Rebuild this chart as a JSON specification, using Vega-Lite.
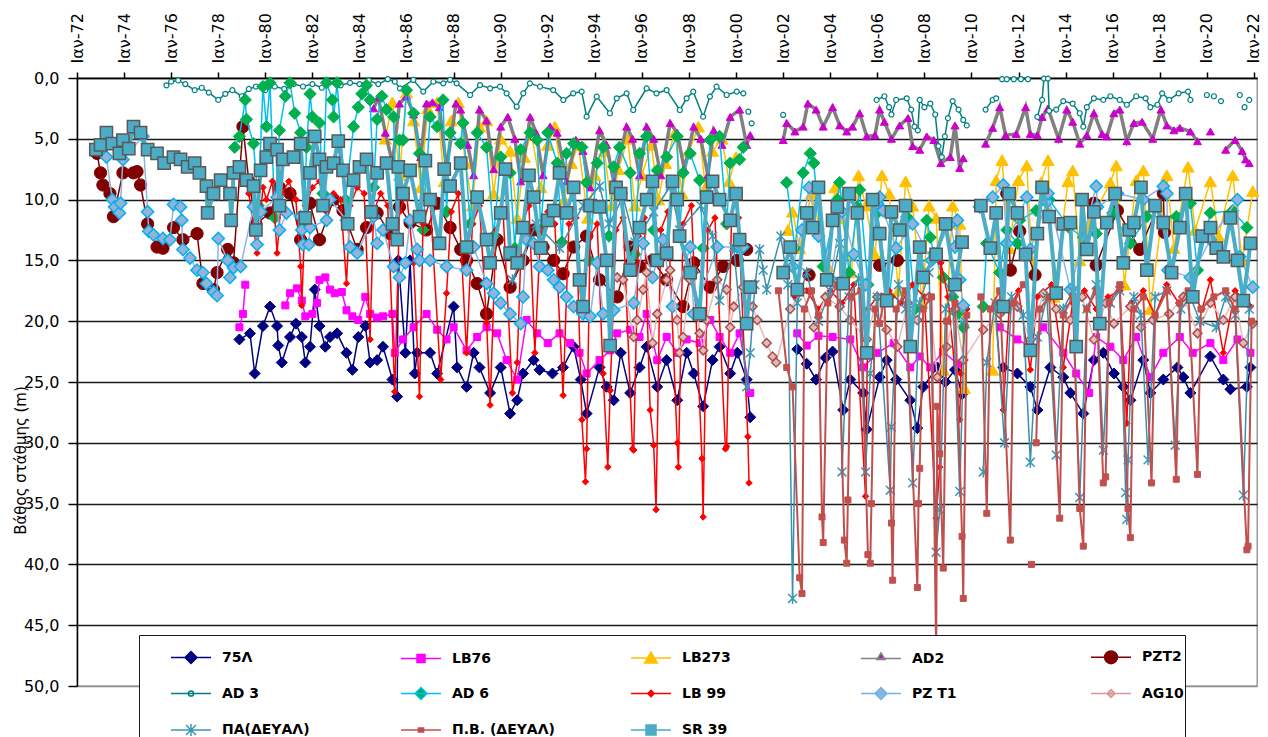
{
"$schema":"https://vega.github.io/schema/vega-lite/v6.json",
"width":1180,"height":608,
"autosize":{"type":"none"},
"padding":{"left":77,"top":78,"right":11,"bottom":51},
"background":"white",
"config":{"view":{"stroke":"#8c8c8c","strokeWidth":1.3}},
"datasets":{
"s75":[{"t":1978.9,"v":21.5},{"t":1979.35,"v":21.0},{"t":1979.55,"v":24.3},{"t":1979.9,"v":20.4},{"t":1980.2,"v":18.8},{"t":1980.5,"v":20.4},{"t":1980.55,"v":22.0},{"t":1980.7,"v":23.4},{"t":1981.05,"v":21.3},{"t":1981.3,"v":20.2},{"t":1981.55,"v":21.3},{"t":1981.7,"v":23.4},{"t":1981.9,"v":22.1},{"t":1982.1,"v":17.4},{"t":1982.3,"v":20.4},{"t":1982.55,"v":22.1},{"t":1982.75,"v":21.3},{"t":1983.05,"v":21.0},{"t":1983.45,"v":22.6},{"t":1983.7,"v":24.0},{"t":1983.95,"v":21.3},{"t":1984.25,"v":20.4},{"t":1984.45,"v":23.4},{"t":1984.75,"v":23.2},{"t":1985.0,"v":22.1},{"t":1985.4,"v":24.8},{"t":1985.6,"v":26.2},{"t":1985.65,"v":15.0},{"t":1985.95,"v":22.6},{"t":1986.15,"v":15.0},{"t":1986.35,"v":24.3},{"t":1986.45,"v":22.6},{"t":1987.0,"v":22.6},{"t":1987.3,"v":24.3},{"t":1988.0,"v":18.8},{"t":1988.15,"v":23.8},{"t":1988.55,"v":25.4},{"t":1988.85,"v":22.6},{"t":1989.1,"v":23.8},{"t":1989.55,"v":25.9},{"t":1990.0,"v":23.8},{"t":1990.4,"v":27.6},{"t":1990.7,"v":26.5},{"t":1990.95,"v":24.3},{"t":1991.4,"v":23.2},{"t":1991.65,"v":24.0},{"t":1992.2,"v":24.3},{"t":1992.65,"v":23.8},{"t":1993.1,"v":22.1},{"t":1993.4,"v":24.8},{"t":1993.65,"v":27.6},{"t":1994.2,"v":23.8},{"t":1994.5,"v":25.4},{"t":1994.8,"v":26.5},{"t":1995.1,"v":22.6},{"t":1995.5,"v":25.9},{"t":1995.9,"v":23.8},{"t":1996.2,"v":22.1},{"t":1996.65,"v":25.4},{"t":1997.05,"v":23.2},{"t":1997.5,"v":26.5},{"t":1997.9,"v":22.6},{"t":1998.2,"v":24.3},{"t":1998.6,"v":27.0},{"t":1999.0,"v":23.2},{"t":1999.3,"v":22.1},{"t":1999.75,"v":24.3},{"t":2000.05,"v":22.6},{"t":2000.45,"v":24.8},{"t":2000.6,"v":27.9},{"t":2001.5,"v":null},{"t":2002.6,"v":22.3},{"t":2003.0,"v":23.5},{"t":2003.4,"v":24.8},{"t":2003.8,"v":23.0},{"t":2004.1,"v":22.5},{"t":2004.55,"v":27.3},{"t":2004.85,"v":24.8},{"t":2005.4,"v":25.9},{"t":2005.55,"v":28.9},{"t":2006.1,"v":24.6},{"t":2006.4,"v":23.2},{"t":2006.8,"v":24.8},{"t":2007.4,"v":26.5},{"t":2007.7,"v":28.8},{"t":2007.95,"v":25.4},{"t":2008.55,"v":23.8},{"t":2008.9,"v":25.0},{"t":2009.3,"v":24.0},{"t":2009.6,"v":26.0},{"t":2010.5,"v":null},{"t":2011.35,"v":23.8},{"t":2011.95,"v":24.3},{"t":2012.5,"v":25.4},{"t":2012.8,"v":27.3},{"t":2013.35,"v":23.8},{"t":2013.9,"v":24.6},{"t":2014.2,"v":25.9},{"t":2014.75,"v":27.6},{"t":2015.2,"v":23.2},{"t":2015.6,"v":22.6},{"t":2016.05,"v":24.3},{"t":2016.45,"v":25.4},{"t":2016.75,"v":26.5},{"t":2017.3,"v":23.2},{"t":2017.6,"v":25.9},{"t":2018.15,"v":24.8},{"t":2018.75,"v":23.8},{"t":2019.0,"v":24.6},{"t":2019.3,"v":25.9},{"t":2020.15,"v":22.9},{"t":2020.7,"v":24.8},{"t":2021.0,"v":25.6},{"t":2021.7,"v":25.4},{"t":2021.85,"v":23.8}],
"lb76":[{"t":1978.9,"v":20.5},{"t":1979.05,"v":19.4},{"t":1979.15,"v":17.0},{"t":1980.0,"v":null},{"t":1980.85,"v":18.7},{"t":1981.05,"v":17.7},{"t":1981.35,"v":17.3},{"t":1981.55,"v":18.3},{"t":1981.7,"v":19.6},{"t":1982.0,"v":19.4},{"t":1982.2,"v":18.5},{"t":1982.3,"v":16.6},{"t":1982.55,"v":16.4},{"t":1982.75,"v":17.4},{"t":1982.95,"v":17.7},{"t":1983.25,"v":17.6},{"t":1983.45,"v":19.1},{"t":1983.7,"v":19.6},{"t":1983.95,"v":19.9},{"t":1984.25,"v":18.0},{"t":1984.45,"v":19.4},{"t":1984.75,"v":19.7},{"t":1985.0,"v":19.6},{"t":1985.4,"v":19.4},{"t":1985.5,"v":22.6},{"t":1985.85,"v":21.5},{"t":1986.3,"v":20.5},{"t":1986.85,"v":19.4},{"t":1987.3,"v":20.7},{"t":1987.7,"v":21.5},{"t":1988.0,"v":20.5},{"t":1988.55,"v":22.4},{"t":1989.0,"v":21.3},{"t":1989.4,"v":20.5},{"t":1989.85,"v":21.0},{"t":1990.25,"v":23.2},{"t":1990.7,"v":24.8},{"t":1991.1,"v":19.9},{"t":1991.55,"v":21.0},{"t":1992.0,"v":21.8},{"t":1992.5,"v":21.0},{"t":1992.95,"v":21.8},{"t":1993.35,"v":22.6},{"t":1993.65,"v":24.3},{"t":1994.2,"v":23.2},{"t":1994.65,"v":22.4},{"t":1994.95,"v":21.0},{"t":1995.5,"v":20.7},{"t":1995.9,"v":21.3},{"t":1996.2,"v":19.4},{"t":1996.65,"v":23.2},{"t":1997.05,"v":21.3},{"t":1997.5,"v":22.6},{"t":1997.9,"v":21.5},{"t":1998.45,"v":21.8},{"t":1998.9,"v":19.9},{"t":1999.3,"v":21.3},{"t":1999.75,"v":22.6},{"t":2000.15,"v":21.0},{"t":2000.6,"v":25.9},{"t":2001.5,"v":null},{"t":2002.6,"v":21.0},{"t":2003.0,"v":22.0},{"t":2003.5,"v":21.2},{"t":2004.1,"v":21.3},{"t":2004.85,"v":21.5},{"t":2005.4,"v":23.8},{"t":2006.0,"v":22.6},{"t":2006.7,"v":21.8},{"t":2007.4,"v":23.8},{"t":2007.8,"v":22.9},{"t":2008.25,"v":23.8},{"t":2008.8,"v":22.5},{"t":2009.4,"v":23.5},{"t":2010.3,"v":null},{"t":2011.2,"v":20.5},{"t":2011.95,"v":21.5},{"t":2012.5,"v":22.1},{"t":2013.05,"v":20.5},{"t":2013.9,"v":22.6},{"t":2014.45,"v":24.3},{"t":2015.0,"v":25.9},{"t":2015.3,"v":21.3},{"t":2015.9,"v":22.1},{"t":2016.45,"v":23.2},{"t":2017.0,"v":21.3},{"t":2017.6,"v":24.6},{"t":2018.15,"v":22.6},{"t":2018.85,"v":21.3},{"t":2019.4,"v":22.6},{"t":2020.15,"v":21.8},{"t":2020.7,"v":23.2},{"t":2021.3,"v":21.5},{"t":2021.85,"v":22.6}],
"lb273":[{"t":1985.1,"v":5.0},{"t":1985.4,"v":2.0},{"t":1985.7,"v":8.0},{"t":1986.0,"v":1.2},{"t":1986.3,"v":3.5},{"t":1986.6,"v":9.0},{"t":1986.9,"v":2.5},{"t":1987.3,"v":2.0},{"t":1987.6,"v":8.5},{"t":1987.9,"v":3.5},{"t":1988.2,"v":2.0},{"t":1988.5,"v":7.0},{"t":1988.8,"v":10.5},{"t":1989.1,"v":4.0},{"t":1989.4,"v":3.5},{"t":1989.7,"v":9.5},{"t":1990.0,"v":5.0},{"t":1990.4,"v":6.0},{"t":1990.7,"v":11.5},{"t":1991.0,"v":6.5},{"t":1991.3,"v":4.5},{"t":1991.7,"v":9.0},{"t":1992.0,"v":5.5},{"t":1992.3,"v":4.0},{"t":1992.7,"v":10.0},{"t":1993.0,"v":7.0},{"t":1993.3,"v":5.5},{"t":1993.7,"v":11.5},{"t":1994.0,"v":8.0},{"t":1994.4,"v":6.0},{"t":1994.7,"v":10.5},{"t":1995.0,"v":7.5},{"t":1995.4,"v":5.0},{"t":1995.7,"v":10.5},{"t":1996.0,"v":8.0},{"t":1996.4,"v":5.5},{"t":1996.7,"v":10.0},{"t":1997.0,"v":7.0},{"t":1997.4,"v":4.5},{"t":1997.7,"v":9.5},{"t":1998.0,"v":6.0},{"t":1998.4,"v":4.0},{"t":1998.7,"v":9.0},{"t":1999.0,"v":6.0},{"t":1999.4,"v":5.0},{"t":1999.7,"v":8.5},{"t":2000.0,"v":6.5},{"t":2001.0,"v":null},{"t":2002.2,"v":12.5},{"t":2002.4,"v":11.0},{"t":2002.7,"v":14.0},{"t":2003.2,"v":9.5},{"t":2003.5,"v":12.0},{"t":2003.9,"v":15.5},{"t":2004.2,"v":9.0},{"t":2004.5,"v":11.5},{"t":2004.9,"v":16.0},{"t":2005.2,"v":8.0},{"t":2005.5,"v":10.5},{"t":2005.9,"v":14.5},{"t":2006.2,"v":8.0},{"t":2006.5,"v":9.5},{"t":2006.9,"v":17.5},{"t":2007.2,"v":8.5},{"t":2007.5,"v":10.5},{"t":2007.9,"v":18.5},{"t":2008.2,"v":10.5},{"t":2008.5,"v":11.5},{"t":2008.8,"v":24.0},{"t":2009.2,"v":10.5},{"t":2009.5,"v":12.0},{"t":2009.7,"v":25.5},{"t":2010.3,"v":null},{"t":2010.9,"v":24.0},{"t":2011.05,"v":8.4},{"t":2011.3,"v":6.75},{"t":2011.6,"v":14.0},{"t":2012.0,"v":8.4},{"t":2012.35,"v":7.2},{"t":2012.6,"v":16.0},{"t":2012.95,"v":8.6},{"t":2013.25,"v":6.75},{"t":2013.5,"v":18.0},{"t":2014.1,"v":8.5},{"t":2014.3,"v":7.6},{"t":2014.6,"v":15.0},{"t":2015.0,"v":12.0},{"t":2015.9,"v":8.6},{"t":2016.15,"v":7.2},{"t":2016.5,"v":17.0},{"t":2017.0,"v":8.4},{"t":2017.3,"v":7.6},{"t":2017.6,"v":19.0},{"t":2018.3,"v":8.0},{"t":2018.6,"v":14.0},{"t":2019.2,"v":7.3},{"t":2019.5,"v":12.5},{"t":2020.15,"v":8.5},{"t":2020.5,"v":13.0},{"t":2021.1,"v":8.0},{"t":2021.5,"v":15.0},{"t":2021.95,"v":9.3}],
"ad2":[{"t":1984.6,"v":2.5},{"t":1984.8,"v":1.6},{"t":1985.1,"v":4.5},{"t":1985.4,"v":7.0},{"t":1985.7,"v":2.1},{"t":1986.0,"v":1.5},{"t":1986.3,"v":3.0},{"t":1986.6,"v":6.5},{"t":1986.85,"v":2.1},{"t":1987.1,"v":2.0},{"t":1987.4,"v":2.4},{"t":1987.7,"v":7.5},{"t":1988.1,"v":2.1},{"t":1988.3,"v":2.6},{"t":1988.6,"v":5.5},{"t":1988.85,"v":8.0},{"t":1989.1,"v":2.6},{"t":1989.4,"v":3.5},{"t":1989.7,"v":7.5},{"t":1990.0,"v":4.0},{"t":1990.3,"v":3.2},{"t":1990.6,"v":5.0},{"t":1990.85,"v":8.5},{"t":1991.25,"v":3.2},{"t":1991.5,"v":4.5},{"t":1991.8,"v":8.0},{"t":1992.1,"v":4.0},{"t":1992.4,"v":4.5},{"t":1992.8,"v":8.5},{"t":1993.2,"v":5.1},{"t":1993.5,"v":6.0},{"t":1993.8,"v":9.0},{"t":1994.2,"v":4.3},{"t":1994.5,"v":5.5},{"t":1994.8,"v":8.5},{"t":1995.35,"v":4.0},{"t":1995.6,"v":5.0},{"t":1995.9,"v":8.0},{"t":1996.2,"v":4.0},{"t":1996.5,"v":5.0},{"t":1996.8,"v":8.0},{"t":1997.2,"v":3.7},{"t":1997.5,"v":4.5},{"t":1997.8,"v":7.5},{"t":1998.2,"v":4.0},{"t":1998.5,"v":5.0},{"t":1998.8,"v":8.0},{"t":1999.05,"v":4.3},{"t":1999.4,"v":5.5},{"t":1999.75,"v":3.2},{"t":2000.15,"v":2.6},{"t":2000.45,"v":5.5},{"t":2000.6,"v":4.7},{"t":2001.3,"v":null},{"t":2002.0,"v":5.1},{"t":2002.15,"v":3.7},{"t":2002.5,"v":4.4},{"t":2002.85,"v":4.0},{"t":2003.05,"v":2.1},{"t":2003.4,"v":2.6},{"t":2003.7,"v":4.0},{"t":2004.1,"v":2.4},{"t":2004.4,"v":3.9},{"t":2004.7,"v":4.4},{"t":2004.95,"v":4.0},{"t":2005.25,"v":2.9},{"t":2005.55,"v":4.8},{"t":2005.9,"v":4.7},{"t":2006.1,"v":2.6},{"t":2006.3,"v":3.6},{"t":2006.6,"v":5.0},{"t":2006.95,"v":3.9},{"t":2007.3,"v":3.3},{"t":2007.5,"v":5.6},{"t":2007.8,"v":5.9},{"t":2008.1,"v":4.8},{"t":2008.4,"v":5.1},{"t":2008.7,"v":7.0},{"t":2009.1,"v":6.5},{"t":2009.3,"v":3.9},{"t":2009.5,"v":7.4},{"t":2009.65,"v":6.6},{"t":2010.2,"v":null},{"t":2010.6,"v":5.4},{"t":2010.9,"v":4.1},{"t":2011.2,"v":2.4},{"t":2011.45,"v":4.7},{"t":2011.9,"v":4.6},{"t":2012.3,"v":2.4},{"t":2012.5,"v":4.6},{"t":2012.8,"v":4.7},{"t":2013.0,"v":3.2},{"t":2013.25,"v":2.5},{"t":2013.7,"v":5.0},{"t":2014.05,"v":2.6},{"t":2014.3,"v":3.6},{"t":2014.6,"v":5.4},{"t":2014.9,"v":4.7},{"t":2015.2,"v":2.9},{"t":2015.55,"v":4.6},{"t":2015.75,"v":4.8},{"t":2016.05,"v":2.9},{"t":2016.3,"v":2.6},{"t":2016.6,"v":5.2},{"t":2016.9,"v":3.7},{"t":2017.25,"v":3.6},{"t":2017.7,"v":5.0},{"t":2018.05,"v":2.6},{"t":2018.3,"v":3.9},{"t":2018.6,"v":4.3},{"t":2018.85,"v":4.1},{"t":2019.3,"v":4.4},{"t":2019.6,"v":5.2},{"t":2019.9,"v":null},{"t":2020.15,"v":4.4},{"t":2020.5,"v":null},{"t":2020.8,"v":5.9},{"t":2021.2,"v":5.1},{"t":2021.5,"v":6.0},{"t":2021.65,"v":6.7},{"t":2021.8,"v":7.0}],
"pzt2":[{"t":1972.85,"v":6.2},{"t":1973.0,"v":7.8},{"t":1973.1,"v":8.8},{"t":1973.4,"v":9.5},{"t":1973.55,"v":11.4},{"t":1973.95,"v":7.8},{"t":1974.4,"v":7.8},{"t":1974.55,"v":7.7},{"t":1974.7,"v":8.8},{"t":1975.0,"v":12.0},{"t":1975.4,"v":13.9},{"t":1975.65,"v":14.0},{"t":1976.1,"v":12.3},{"t":1976.5,"v":13.3},{"t":1977.1,"v":12.8},{"t":1977.35,"v":16.9},{"t":1977.8,"v":17.4},{"t":1977.95,"v":16.0},{"t":1978.4,"v":14.1},{"t":1978.65,"v":15.2},{"t":1979.05,"v":4.0},{"t":1979.3,"v":8.5},{"t":1979.6,"v":12.0},{"t":1980.2,"v":11.1},{"t":1980.6,"v":9.0},{"t":1981.05,"v":9.5},{"t":1981.5,"v":13.3},{"t":1981.9,"v":10.3},{"t":1982.3,"v":13.3},{"t":1982.9,"v":10.0},{"t":1983.3,"v":10.9},{"t":1983.9,"v":14.1},{"t":1984.3,"v":12.3},{"t":1984.75,"v":11.1},{"t":1985.3,"v":12.8},{"t":1985.7,"v":10.6},{"t":1986.15,"v":11.9},{"t":1986.85,"v":12.5},{"t":1987.3,"v":10.3},{"t":1987.85,"v":12.3},{"t":1988.3,"v":14.1},{"t":1988.55,"v":15.0},{"t":1989.0,"v":16.9},{"t":1989.4,"v":19.4},{"t":1989.85,"v":13.3},{"t":1990.4,"v":17.2},{"t":1990.95,"v":15.0},{"t":1991.4,"v":12.5},{"t":1991.8,"v":13.9},{"t":1992.25,"v":15.0},{"t":1992.65,"v":16.1},{"t":1993.1,"v":13.9},{"t":1993.65,"v":13.0},{"t":1994.2,"v":16.6},{"t":1994.95,"v":18.0},{"t":1995.5,"v":13.9},{"t":1995.9,"v":15.5},{"t":1996.45,"v":15.0},{"t":1997.05,"v":16.6},{"t":1997.75,"v":18.8},{"t":1998.2,"v":15.2},{"t":1998.9,"v":17.2},{"t":1999.45,"v":15.5},{"t":2000.05,"v":15.0},{"t":2000.45,"v":14.1},{"t":2001.5,"v":null},{"t":2003.1,"v":16.2},{"t":2004.5,"v":null},{"t":2006.1,"v":15.4},{"t":2006.85,"v":15.0},{"t":2008.0,"v":null},{"t":2011.5,"v":9.5},{"t":2011.65,"v":15.8},{"t":2012.05,"v":12.6},{"t":2012.7,"v":16.2},{"t":2013.5,"v":null},{"t":2015.2,"v":10.3},{"t":2015.3,"v":15.4},{"t":2016.2,"v":10.9},{"t":2017.15,"v":14.1},{"t":2018.15,"v":9.5},{"t":2018.2,"v":12.7}],
"ad3":[{"t":1975.8,"v":0.6},{"t":1976.0,"v":0.3},{"t":1976.3,"v":0.2},{"t":1976.6,"v":0.5},{"t":1977.0,"v":1.0},{"t":1977.3,"v":0.8},{"t":1977.6,"v":1.2},{"t":1978.0,"v":1.8},{"t":1978.3,"v":1.3},{"t":1978.6,"v":1.0},{"t":1979.0,"v":1.5},{"t":1979.3,"v":0.9},{"t":1979.6,"v":0.7},{"t":1980.0,"v":1.0},{"t":1980.4,"v":0.7},{"t":1980.8,"v":0.9},{"t":1981.2,"v":0.5},{"t":1981.6,"v":0.7},{"t":1982.0,"v":0.5},{"t":1982.4,"v":0.8},{"t":1982.8,"v":0.3},{"t":1983.2,"v":0.6},{"t":1983.6,"v":0.4},{"t":1984.0,"v":0.5},{"t":1984.4,"v":0.2},{"t":1984.8,"v":0.5},{"t":1985.2,"v":0.1},{"t":1985.5,"v":0.3},{"t":1985.72,"v":0.85},{"t":1986.29,"v":0.16},{"t":1986.71,"v":1.12},{"t":1987.14,"v":0.3},{"t":1987.56,"v":0.44},{"t":1987.85,"v":0.16},{"t":1988.13,"v":0.44},{"t":1988.7,"v":1.4},{"t":1989.12,"v":0.58},{"t":1989.55,"v":0.85},{"t":1989.97,"v":0.71},{"t":1990.25,"v":1.26},{"t":1990.68,"v":2.36},{"t":1990.96,"v":1.26},{"t":1991.24,"v":0.44},{"t":1991.67,"v":0.71},{"t":1992.23,"v":0.99},{"t":1992.66,"v":1.81},{"t":1993.08,"v":1.26},{"t":1993.44,"v":1.12},{"t":1993.65,"v":3.18},{"t":1994.08,"v":1.53},{"t":1994.64,"v":2.9},{"t":1994.93,"v":1.67},{"t":1995.35,"v":1.26},{"t":1995.63,"v":2.63},{"t":1996.2,"v":0.85},{"t":1996.62,"v":1.26},{"t":1997.05,"v":0.99},{"t":1997.61,"v":2.63},{"t":1997.9,"v":1.67},{"t":1998.18,"v":1.12},{"t":1998.6,"v":3.18},{"t":1998.89,"v":1.53},{"t":1999.17,"v":0.71},{"t":1999.6,"v":1.4},{"t":2000.03,"v":1.12},{"t":2000.31,"v":1.26},{"t":2000.4,"v":null},{"t":2000.52,"v":2.77},{"t":2000.6,"v":null},{"t":2000.66,"v":3.73},{"t":2001.0,"v":null},{"t":2002.0,"v":3.04},{"t":2004.0,"v":null},{"t":2005.97,"v":1.8},{"t":2006.3,"v":1.5},{"t":2006.5,"v":2.4},{"t":2006.6,"v":3.0},{"t":2006.8,"v":1.8},{"t":2007.25,"v":1.67},{"t":2007.44,"v":2.6},{"t":2007.58,"v":4.0},{"t":2007.72,"v":4.3},{"t":2007.8,"v":1.8},{"t":2008.0,"v":2.4},{"t":2008.25,"v":2.1},{"t":2008.46,"v":3.0},{"t":2008.6,"v":5.6},{"t":2008.74,"v":6.5},{"t":2008.87,"v":4.8},{"t":2009.0,"v":3.3},{"t":2009.2,"v":1.9},{"t":2009.45,"v":2.6},{"t":2009.65,"v":3.45},{"t":2009.8,"v":3.9},{"t":2010.2,"v":null},{"t":2010.6,"v":2.6},{"t":2010.9,"v":1.8},{"t":2011.05,"v":1.67},{"t":2011.2,"v":null},{"t":2011.3,"v":0.1},{"t":2011.5,"v":0.1},{"t":2011.8,"v":0.1},{"t":2012.1,"v":0.1},{"t":2012.4,"v":0.1},{"t":2012.6,"v":null},{"t":2012.8,"v":3.2},{"t":2013.0,"v":1.8},{"t":2013.08,"v":0.05},{"t":2013.25,"v":0.05},{"t":2013.3,"v":2.7},{"t":2013.6,"v":2.6},{"t":2013.9,"v":1.9},{"t":2014.3,"v":2.1},{"t":2014.6,"v":2.9},{"t":2014.75,"v":4.0},{"t":2014.9,"v":2.4},{"t":2015.2,"v":1.67},{"t":2015.6,"v":1.8},{"t":2015.9,"v":1.5},{"t":2016.3,"v":1.8},{"t":2016.6,"v":2.2},{"t":2017.0,"v":1.5},{"t":2017.4,"v":1.67},{"t":2017.6,"v":2.4},{"t":2017.9,"v":2.2},{"t":2018.1,"v":1.26},{"t":2018.4,"v":1.8},{"t":2018.8,"v":1.26},{"t":2019.2,"v":1.12},{"t":2019.3,"v":1.8},{"t":2019.6,"v":null},{"t":2020.0,"v":1.4},{"t":2020.1,"v":null},{"t":2020.3,"v":1.5},{"t":2020.4,"v":null},{"t":2020.6,"v":1.9},{"t":2021.0,"v":null},{"t":2021.4,"v":1.4},{"t":2021.5,"v":null},{"t":2021.6,"v":2.4},{"t":2021.7,"v":null},{"t":2021.8,"v":1.8}],
"ad6":[{"t":1978.7,"v":5.7},{"t":1978.9,"v":4.8},{"t":1979.15,"v":1.8},{"t":1979.2,"v":3.4},{"t":1979.5,"v":5.4},{"t":1979.7,"v":10.5},{"t":1979.9,"v":0.7},{"t":1980.05,"v":4.0},{"t":1980.2,"v":0.4},{"t":1980.4,"v":11.5},{"t":1980.6,"v":4.3},{"t":1980.85,"v":1.5},{"t":1981.05,"v":0.4},{"t":1981.25,"v":2.9},{"t":1981.5,"v":4.5},{"t":1981.65,"v":12.0},{"t":1981.75,"v":5.7},{"t":1981.9,"v":1.3},{"t":1982.0,"v":3.2},{"t":1982.3,"v":3.7},{"t":1982.45,"v":9.5},{"t":1982.6,"v":0.4},{"t":1982.85,"v":1.8},{"t":1982.9,"v":3.2},{"t":1983.05,"v":0.4},{"t":1983.4,"v":10.0},{"t":1983.75,"v":4.0},{"t":1983.95,"v":2.4},{"t":1984.1,"v":1.3},{"t":1984.3,"v":0.6},{"t":1984.45,"v":1.8},{"t":1984.6,"v":9.0},{"t":1984.75,"v":3.4},{"t":1984.95,"v":1.5},{"t":1985.15,"v":2.6},{"t":1985.45,"v":3.2},{"t":1985.6,"v":13.0},{"t":1985.7,"v":5.1},{"t":1985.85,"v":5.1},{"t":1986.0,"v":1.0},{"t":1986.3,"v":2.9},{"t":1986.55,"v":6.2},{"t":1986.7,"v":12.5},{"t":1987.0,"v":3.2},{"t":1987.3,"v":4.0},{"t":1987.55,"v":1.8},{"t":1987.7,"v":11.0},{"t":1987.85,"v":4.5},{"t":1988.3,"v":5.4},{"t":1988.4,"v":3.7},{"t":1988.7,"v":12.0},{"t":1989.0,"v":4.5},{"t":1989.4,"v":5.7},{"t":1989.7,"v":13.0},{"t":1990.0,"v":6.5},{"t":1990.4,"v":7.8},{"t":1990.6,"v":14.0},{"t":1990.85,"v":5.9},{"t":1991.25,"v":4.5},{"t":1991.55,"v":5.1},{"t":1991.7,"v":12.5},{"t":1992.0,"v":4.5},{"t":1992.4,"v":7.0},{"t":1992.6,"v":13.5},{"t":1992.8,"v":6.2},{"t":1993.1,"v":5.4},{"t":1993.45,"v":5.7},{"t":1993.65,"v":8.6},{"t":1993.75,"v":15.0},{"t":1994.1,"v":7.0},{"t":1994.35,"v":5.7},{"t":1994.6,"v":13.0},{"t":1994.8,"v":7.3},{"t":1995.05,"v":5.7},{"t":1995.5,"v":7.8},{"t":1995.7,"v":14.5},{"t":1995.9,"v":6.2},{"t":1996.2,"v":4.8},{"t":1996.5,"v":12.5},{"t":1996.65,"v":7.6},{"t":1997.05,"v":6.5},{"t":1997.5,"v":4.8},{"t":1997.6,"v":13.0},{"t":1997.75,"v":7.8},{"t":1998.05,"v":6.2},{"t":1998.45,"v":8.4},{"t":1998.6,"v":14.0},{"t":1998.9,"v":5.1},{"t":1999.3,"v":4.8},{"t":1999.6,"v":12.0},{"t":1999.75,"v":7.0},{"t":2000.15,"v":6.7},{"t":2000.3,"v":5.7},{"t":2001.0,"v":null},{"t":2002.15,"v":8.6},{"t":2002.5,"v":14.0},{"t":2002.85,"v":7.8},{"t":2003.15,"v":6.2},{"t":2003.3,"v":7.0},{"t":2003.7,"v":15.5},{"t":2004.3,"v":10.0},{"t":2004.4,"v":8.6},{"t":2004.8,"v":16.0},{"t":2005.15,"v":10.6},{"t":2005.25,"v":9.2},{"t":2005.6,"v":17.0},{"t":2006.0,"v":11.1},{"t":2006.5,"v":18.0},{"t":2006.85,"v":12.5},{"t":2007.25,"v":11.4},{"t":2007.6,"v":19.0},{"t":2008.1,"v":11.7},{"t":2008.25,"v":13.1},{"t":2008.4,"v":14.4},{"t":2008.8,"v":16.4},{"t":2009.2,"v":18.0},{"t":2009.4,"v":19.4},{"t":2009.65,"v":20.5},{"t":2010.0,"v":null},{"t":2010.5,"v":18.8},{"t":2010.65,"v":13.6},{"t":2011.2,"v":16.0},{"t":2011.5,"v":12.5},{"t":2011.95,"v":13.6},{"t":2012.05,"v":11.7},{"t":2012.75,"v":10.9},{"t":2013.3,"v":10.0},{"t":2014.15,"v":12.3},{"t":2014.75,"v":13.1},{"t":2015.3,"v":12.8},{"t":2016.0,"v":11.1},{"t":2016.75,"v":13.6},{"t":2017.45,"v":11.4},{"t":2018.7,"v":11.4},{"t":2019.3,"v":10.3},{"t":2019.6,"v":15.8},{"t":2020.15,"v":11.1},{"t":2021.1,"v":10.9},{"t":2021.7,"v":12.3}],
"lb99":[{"t":1979.3,"v":9.5},{"t":1979.65,"v":14.4},{"t":1979.9,"v":9.0},{"t":1980.05,"v":10.0},{"t":1980.3,"v":8.5},{"t":1980.5,"v":14.4},{"t":1980.7,"v":9.5},{"t":1981.0,"v":8.5},{"t":1981.3,"v":10.0},{"t":1981.5,"v":15.5},{"t":1981.55,"v":18.7},{"t":1981.7,"v":10.5},{"t":1982.0,"v":9.0},{"t":1982.3,"v":8.5},{"t":1982.6,"v":11.0},{"t":1982.9,"v":9.5},{"t":1983.2,"v":10.0},{"t":1983.45,"v":16.9},{"t":1983.6,"v":10.5},{"t":1983.9,"v":9.0},{"t":1984.2,"v":9.5},{"t":1984.45,"v":21.5},{"t":1984.6,"v":11.0},{"t":1984.9,"v":9.5},{"t":1985.2,"v":10.5},{"t":1985.5,"v":25.8},{"t":1985.7,"v":11.0},{"t":1986.0,"v":9.5},{"t":1986.3,"v":15.2},{"t":1986.55,"v":26.2},{"t":1986.7,"v":12.0},{"t":1987.0,"v":10.0},{"t":1987.45,"v":24.8},{"t":1987.7,"v":17.7},{"t":1987.9,"v":11.0},{"t":1988.2,"v":9.5},{"t":1988.55,"v":22.6},{"t":1988.8,"v":12.0},{"t":1989.1,"v":10.5},{"t":1989.4,"v":20.1},{"t":1989.55,"v":26.9},{"t":1989.8,"v":12.5},{"t":1990.1,"v":11.0},{"t":1990.5,"v":25.9},{"t":1990.7,"v":23.4},{"t":1990.9,"v":12.0},{"t":1991.2,"v":10.5},{"t":1991.45,"v":22.6},{"t":1991.7,"v":12.5},{"t":1992.0,"v":11.0},{"t":1992.3,"v":12.0},{"t":1992.65,"v":26.1},{"t":1992.9,"v":12.0},{"t":1993.2,"v":11.5},{"t":1993.45,"v":28.1},{"t":1993.6,"v":33.2},{"t":1993.65,"v":30.5},{"t":1993.8,"v":13.0},{"t":1994.1,"v":12.0},{"t":1994.35,"v":24.3},{"t":1994.55,"v":32.0},{"t":1994.65,"v":25.7},{"t":1994.9,"v":12.5},{"t":1995.2,"v":11.5},{"t":1995.6,"v":30.5},{"t":1995.65,"v":30.6},{"t":1995.85,"v":13.0},{"t":1996.1,"v":11.5},{"t":1996.35,"v":27.3},{"t":1996.5,"v":30.2},{"t":1996.6,"v":35.5},{"t":1996.8,"v":12.5},{"t":1997.1,"v":11.0},{"t":1997.5,"v":30.0},{"t":1997.55,"v":32.0},{"t":1997.75,"v":12.0},{"t":1998.1,"v":10.5},{"t":1998.55,"v":31.3},{"t":1998.6,"v":36.1},{"t":1998.8,"v":12.5},{"t":1999.1,"v":11.5},{"t":1999.55,"v":30.5},{"t":1999.6,"v":30.3},{"t":1999.8,"v":12.0},{"t":2000.1,"v":11.5},{"t":2000.5,"v":29.5},{"t":2000.55,"v":33.3},{"t":2001.5,"v":null},{"t":2002.5,"v":18.0},{"t":2003.0,"v":17.5},{"t":2003.5,"v":19.0},{"t":2004.0,"v":17.5},{"t":2004.5,"v":18.5},{"t":2005.0,"v":17.0},{"t":2005.5,"v":34.4},{"t":2005.6,"v":19.0},{"t":2006.0,"v":18.0},{"t":2006.5,"v":17.5},{"t":2007.0,"v":18.5},{"t":2007.5,"v":17.0},{"t":2008.0,"v":18.0},{"t":2008.5,"v":36.2},{"t":2008.65,"v":32.0},{"t":2008.7,"v":15.2},{"t":2009.0,"v":18.0},{"t":2009.5,"v":28.1},{"t":2009.55,"v":24.3},{"t":2009.8,"v":19.0},{"t":2010.4,"v":null},{"t":2011.0,"v":18.5},{"t":2011.35,"v":27.3},{"t":2011.6,"v":19.0},{"t":2012.0,"v":17.5},{"t":2012.5,"v":24.0},{"t":2012.8,"v":18.0},{"t":2013.4,"v":17.0},{"t":2013.9,"v":23.8},{"t":2014.3,"v":18.5},{"t":2014.8,"v":17.5},{"t":2015.3,"v":19.0},{"t":2015.8,"v":18.0},{"t":2016.3,"v":17.5},{"t":2016.6,"v":28.4},{"t":2016.8,"v":18.5},{"t":2017.3,"v":17.5},{"t":2017.8,"v":19.5},{"t":2018.3,"v":17.0},{"t":2018.8,"v":18.5},{"t":2019.3,"v":17.5},{"t":2019.8,"v":19.0},{"t":2020.15,"v":16.6},{"t":2020.7,"v":22.6},{"t":2021.2,"v":17.5},{"t":2021.85,"v":18.8}],
"pzt1":[{"t":1972.85,"v":5.9},{"t":1973.25,"v":6.5},{"t":1973.5,"v":10.0},{"t":1973.6,"v":10.6},{"t":1973.8,"v":11.1},{"t":1973.85,"v":10.3},{"t":1973.95,"v":6.7},{"t":1974.8,"v":4.8},{"t":1975.0,"v":11.0},{"t":1975.05,"v":12.6},{"t":1975.25,"v":12.9},{"t":1975.65,"v":13.2},{"t":1975.95,"v":13.3},{"t":1976.1,"v":10.4},{"t":1976.4,"v":10.6},{"t":1976.45,"v":11.7},{"t":1976.5,"v":14.1},{"t":1976.8,"v":14.8},{"t":1977.1,"v":15.8},{"t":1977.35,"v":16.0},{"t":1977.5,"v":16.9},{"t":1977.8,"v":17.6},{"t":1977.95,"v":17.9},{"t":1978.0,"v":13.2},{"t":1978.4,"v":15.0},{"t":1978.5,"v":16.4},{"t":1978.65,"v":15.6},{"t":1978.95,"v":15.5},{"t":1979.5,"v":10.6},{"t":1979.65,"v":13.7},{"t":1979.8,"v":11.0},{"t":1980.5,"v":9.8},{"t":1980.6,"v":12.5},{"t":1980.9,"v":11.1},{"t":1981.5,"v":11.4},{"t":1981.55,"v":12.5},{"t":1981.6,"v":13.7},{"t":1981.85,"v":13.7},{"t":1981.9,"v":12.3},{"t":1982.6,"v":11.7},{"t":1982.75,"v":10.0},{"t":1983.45,"v":11.7},{"t":1983.6,"v":13.9},{"t":1983.9,"v":14.4},{"t":1984.6,"v":11.4},{"t":1984.75,"v":13.6},{"t":1985.0,"v":12.5},{"t":1985.45,"v":15.5},{"t":1985.7,"v":16.4},{"t":1985.95,"v":15.2},{"t":1986.15,"v":11.7},{"t":1986.45,"v":14.1},{"t":1986.55,"v":15.0},{"t":1987.0,"v":15.0},{"t":1987.7,"v":15.5},{"t":1988.55,"v":15.8},{"t":1988.85,"v":13.9},{"t":1989.4,"v":16.9},{"t":1989.7,"v":17.7},{"t":1990.0,"v":18.5},{"t":1990.4,"v":19.4},{"t":1990.85,"v":20.2},{"t":1990.95,"v":18.0},{"t":1991.1,"v":13.3},{"t":1991.4,"v":13.6},{"t":1991.65,"v":15.5},{"t":1992.0,"v":15.8},{"t":1992.25,"v":16.6},{"t":1992.5,"v":17.2},{"t":1992.8,"v":18.0},{"t":1993.1,"v":18.8},{"t":1993.5,"v":19.4},{"t":1993.8,"v":19.6},{"t":1994.1,"v":15.2},{"t":1994.35,"v":19.4},{"t":1994.8,"v":19.1},{"t":1995.65,"v":18.5},{"t":1996.05,"v":13.6},{"t":1996.45,"v":16.4},{"t":1996.9,"v":13.3},{"t":1997.3,"v":18.8},{"t":1998.05,"v":13.9},{"t":1998.2,"v":19.4},{"t":1999.2,"v":13.9},{"t":2000.05,"v":13.9},{"t":2000.3,"v":13.9},{"t":2001.3,"v":null},{"t":2002.4,"v":15.5},{"t":2002.8,"v":12.5},{"t":2003.1,"v":9.0},{"t":2003.5,"v":13.0},{"t":2004.0,"v":16.5},{"t":2004.5,"v":11.0},{"t":2005.0,"v":14.5},{"t":2005.5,"v":17.0},{"t":2006.0,"v":10.3},{"t":2006.1,"v":9.8},{"t":2006.25,"v":10.9},{"t":2006.8,"v":14.0},{"t":2007.5,"v":12.0},{"t":2008.3,"v":15.0},{"t":2009.1,"v":12.0},{"t":2009.3,"v":13.9},{"t":2009.4,"v":11.7},{"t":2009.5,"v":16.6},{"t":2009.65,"v":18.7},{"t":2010.0,"v":null},{"t":2010.35,"v":10.6},{"t":2010.9,"v":9.8},{"t":2011.35,"v":8.8},{"t":2011.5,"v":13.6},{"t":2012.35,"v":9.8},{"t":2012.5,"v":14.1},{"t":2013.2,"v":10.2},{"t":2013.25,"v":9.5},{"t":2014.2,"v":17.4},{"t":2015.3,"v":8.9},{"t":2015.35,"v":10.6},{"t":2016.2,"v":9.5},{"t":2017.3,"v":10.0},{"t":2018.15,"v":8.9},{"t":2018.3,"v":9.5},{"t":2018.35,"v":15.8},{"t":2019.3,"v":16.4},{"t":2020.15,"v":13.3},{"t":2021.3,"v":10.0},{"t":2021.4,"v":14.7},{"t":2021.95,"v":17.2}],
"ag10":[{"t":1994.95,"v":16.4},{"t":1995.2,"v":16.6},{"t":1995.65,"v":21.3},{"t":1995.8,"v":19.9},{"t":1996.05,"v":17.4},{"t":1996.2,"v":16.0},{"t":1996.45,"v":21.8},{"t":1996.65,"v":19.4},{"t":1997.05,"v":16.6},{"t":1997.2,"v":15.8},{"t":1997.5,"v":19.9},{"t":1997.6,"v":22.6},{"t":1997.75,"v":21.3},{"t":1998.05,"v":16.6},{"t":1998.2,"v":16.0},{"t":1998.45,"v":21.0},{"t":1998.6,"v":22.4},{"t":1998.75,"v":19.9},{"t":1999.2,"v":16.6},{"t":1999.6,"v":17.4},{"t":1999.75,"v":20.5},{"t":1999.9,"v":18.8},{"t":2000.3,"v":17.2},{"t":2000.7,"v":18.8},{"t":2000.9,"v":19.9},{"t":2001.3,"v":21.8},{"t":2001.55,"v":22.9},{"t":2001.7,"v":23.4},{"t":2002.3,"v":19.0},{"t":2002.8,"v":17.5},{"t":2003.3,"v":20.5},{"t":2003.8,"v":18.0},{"t":2004.4,"v":18.8},{"t":2004.85,"v":19.9},{"t":2005.55,"v":21.5},{"t":2006.0,"v":18.0},{"t":2006.4,"v":20.7},{"t":2006.85,"v":22.1},{"t":2007.3,"v":18.5},{"t":2007.7,"v":19.9},{"t":2008.2,"v":18.0},{"t":2008.55,"v":24.6},{"t":2008.95,"v":22.1},{"t":2009.3,"v":19.0},{"t":2009.65,"v":23.2},{"t":2010.5,"v":20.7},{"t":2011.2,"v":19.4},{"t":2011.95,"v":18.8},{"t":2012.5,"v":21.5},{"t":2013.05,"v":17.7},{"t":2013.6,"v":19.0},{"t":2014.2,"v":19.9},{"t":2014.7,"v":18.0},{"t":2015.2,"v":21.5},{"t":2015.7,"v":18.5},{"t":2016.05,"v":20.2},{"t":2016.75,"v":18.8},{"t":2017.2,"v":20.5},{"t":2017.7,"v":19.9},{"t":2018.4,"v":19.4},{"t":2019.0,"v":18.0},{"t":2019.6,"v":21.0},{"t":2020.15,"v":18.5},{"t":2020.7,"v":19.9},{"t":2021.2,"v":18.0},{"t":2021.55,"v":21.8},{"t":2021.95,"v":20.2}],
"pa":[{"t":1990.5,"v":16.6},{"t":1991.5,"v":12.0},{"t":1992.5,"v":14.0},{"t":1993.5,"v":10.5},{"t":1994.2,"v":8.9},{"t":1994.6,"v":12.0},{"t":1995.2,"v":9.8},{"t":1995.7,"v":13.5},{"t":1996.5,"v":11.0},{"t":1997.2,"v":8.9},{"t":1997.6,"v":12.5},{"t":1998.5,"v":10.5},{"t":1999.0,"v":13.0},{"t":1999.3,"v":18.3},{"t":1999.9,"v":13.9},{"t":2000.45,"v":25.4},{"t":2000.6,"v":22.6},{"t":2000.8,"v":17.0},{"t":2001.0,"v":14.1},{"t":2001.15,"v":15.8},{"t":2001.3,"v":17.4},{"t":2001.9,"v":13.0},{"t":2002.2,"v":17.0},{"t":2002.4,"v":42.8},{"t":2002.6,"v":18.5},{"t":2003.0,"v":16.0},{"t":2003.5,"v":20.0},{"t":2004.0,"v":17.5},{"t":2004.4,"v":13.6},{"t":2004.5,"v":32.4},{"t":2004.8,"v":18.0},{"t":2005.2,"v":16.5},{"t":2005.5,"v":32.4},{"t":2005.7,"v":24.3},{"t":2006.0,"v":18.0},{"t":2006.55,"v":33.9},{"t":2006.6,"v":28.7},{"t":2006.9,"v":17.0},{"t":2007.2,"v":19.0},{"t":2007.5,"v":33.3},{"t":2007.8,"v":18.5},{"t":2008.2,"v":16.0},{"t":2008.5,"v":39.0},{"t":2008.65,"v":35.5},{"t":2008.9,"v":19.0},{"t":2009.2,"v":17.5},{"t":2009.5,"v":34.0},{"t":2009.7,"v":20.0},{"t":2010.1,"v":null},{"t":2010.5,"v":32.4},{"t":2010.65,"v":23.4},{"t":2011.0,"v":18.5},{"t":2011.4,"v":30.0},{"t":2011.7,"v":18.0},{"t":2012.2,"v":19.5},{"t":2012.5,"v":31.6},{"t":2012.8,"v":21.3},{"t":2013.2,"v":18.0},{"t":2013.6,"v":31.0},{"t":2013.9,"v":19.0},{"t":2014.3,"v":17.5},{"t":2014.6,"v":34.5},{"t":2014.9,"v":19.0},{"t":2015.3,"v":17.0},{"t":2015.6,"v":30.6},{"t":2015.9,"v":18.5},{"t":2016.3,"v":17.5},{"t":2016.55,"v":34.1},{"t":2016.6,"v":36.3},{"t":2016.65,"v":31.4},{"t":2016.9,"v":18.0},{"t":2017.2,"v":19.5},{"t":2017.5,"v":31.4},{"t":2017.8,"v":18.0},{"t":2018.3,"v":17.5},{"t":2018.65,"v":30.2},{"t":2018.9,"v":19.0},{"t":2019.3,"v":18.0},{"t":2019.7,"v":20.0},{"t":2020.4,"v":20.5},{"t":2020.8,"v":18.0},{"t":2021.2,"v":19.5},{"t":2021.55,"v":34.3},{"t":2021.8,"v":19.0}],
"pb":[{"t":2001.8,"v":17.5},{"t":2002.15,"v":23.8},{"t":2002.4,"v":25.4},{"t":2002.7,"v":41.1},{"t":2002.8,"v":42.4},{"t":2002.9,"v":19.0},{"t":2003.2,"v":17.5},{"t":2003.5,"v":19.5},{"t":2003.65,"v":36.1},{"t":2003.7,"v":38.2},{"t":2003.9,"v":18.5},{"t":2004.3,"v":17.0},{"t":2004.6,"v":38.0},{"t":2004.7,"v":39.9},{"t":2004.75,"v":34.7},{"t":2004.9,"v":18.0},{"t":2005.3,"v":17.5},{"t":2005.6,"v":39.2},{"t":2005.7,"v":39.9},{"t":2005.75,"v":35.0},{"t":2005.9,"v":19.0},{"t":2006.1,"v":20.2},{"t":2006.3,"v":18.0},{"t":2006.6,"v":36.6},{"t":2006.65,"v":41.3},{"t":2006.8,"v":19.0},{"t":2007.2,"v":17.5},{"t":2007.7,"v":41.9},{"t":2007.75,"v":35.0},{"t":2007.8,"v":32.1},{"t":2007.95,"v":19.0},{"t":2008.3,"v":18.0},{"t":2008.5,"v":47.5},{"t":2008.55,"v":27.0},{"t":2008.65,"v":30.9},{"t":2008.8,"v":40.3},{"t":2008.95,"v":20.0},{"t":2009.3,"v":18.5},{"t":2009.6,"v":37.7},{"t":2009.65,"v":42.8},{"t":2009.8,"v":19.5},{"t":2010.1,"v":null},{"t":2010.4,"v":18.0},{"t":2010.65,"v":35.8},{"t":2010.8,"v":19.0},{"t":2011.2,"v":17.5},{"t":2011.65,"v":38.0},{"t":2011.8,"v":18.5},{"t":2012.2,"v":17.0},{"t":2012.4,"v":null},{"t":2012.55,"v":40.0},{"t":2012.6,"v":null},{"t":2012.75,"v":30.0},{"t":2012.9,"v":19.0},{"t":2013.3,"v":18.0},{"t":2013.75,"v":36.2},{"t":2013.9,"v":19.5},{"t":2014.3,"v":18.0},{"t":2014.6,"v":35.4},{"t":2014.75,"v":38.5},{"t":2014.9,"v":19.0},{"t":2015.3,"v":17.5},{"t":2015.6,"v":33.3},{"t":2015.7,"v":32.8},{"t":2015.85,"v":18.5},{"t":2016.3,"v":17.0},{"t":2016.65,"v":35.4},{"t":2016.75,"v":37.8},{"t":2016.9,"v":19.0},{"t":2017.3,"v":18.0},{"t":2017.65,"v":33.3},{"t":2017.8,"v":19.5},{"t":2018.3,"v":17.5},{"t":2018.7,"v":33.0},{"t":2018.85,"v":18.5},{"t":2019.2,"v":17.5},{"t":2019.6,"v":32.6},{"t":2019.75,"v":19.0},{"t":2020.3,"v":18.0},{"t":2020.8,"v":17.5},{"t":2021.2,"v":19.0},{"t":2021.7,"v":38.8},{"t":2021.75,"v":38.5},{"t":2021.9,"v":20.0}],
"sr39":[{"t":1972.8,"v":5.9},{"t":1973.0,"v":5.5},{"t":1973.25,"v":4.5},{"t":1973.5,"v":5.4},{"t":1973.8,"v":6.2},{"t":1973.95,"v":5.1},{"t":1974.2,"v":5.8},{"t":1974.4,"v":4.0},{"t":1974.7,"v":4.5},{"t":1975.0,"v":5.9},{"t":1975.4,"v":6.2},{"t":1975.7,"v":7.0},{"t":1976.1,"v":6.5},{"t":1976.4,"v":6.7},{"t":1976.7,"v":7.3},{"t":1977.0,"v":7.0},{"t":1977.2,"v":7.8},{"t":1977.5,"v":8.9},{"t":1977.55,"v":11.1},{"t":1977.8,"v":9.5},{"t":1978.1,"v":8.4},{"t":1978.5,"v":9.5},{"t":1978.55,"v":11.7},{"t":1978.65,"v":7.8},{"t":1978.9,"v":7.3},{"t":1979.2,"v":8.4},{"t":1979.5,"v":8.9},{"t":1979.6,"v":12.5},{"t":1979.8,"v":7.6},{"t":1980.05,"v":6.5},{"t":1980.2,"v":5.4},{"t":1980.5,"v":5.9},{"t":1980.6,"v":10.5},{"t":1980.75,"v":6.7},{"t":1981.2,"v":6.5},{"t":1981.5,"v":5.4},{"t":1981.7,"v":11.5},{"t":1981.9,"v":7.8},{"t":1982.1,"v":4.8},{"t":1982.3,"v":6.7},{"t":1982.45,"v":10.5},{"t":1982.6,"v":7.3},{"t":1982.9,"v":7.0},{"t":1983.1,"v":5.2},{"t":1983.3,"v":7.6},{"t":1983.5,"v":12.0},{"t":1983.75,"v":8.4},{"t":1984.0,"v":7.3},{"t":1984.3,"v":6.7},{"t":1984.5,"v":11.0},{"t":1984.75,"v":7.8},{"t":1985.15,"v":7.0},{"t":1985.4,"v":12.0},{"t":1985.6,"v":13.3},{"t":1985.65,"v":7.3},{"t":1985.85,"v":9.5},{"t":1986.15,"v":7.6},{"t":1986.55,"v":11.4},{"t":1986.8,"v":6.8},{"t":1987.0,"v":10.0},{"t":1987.4,"v":13.6},{"t":1987.6,"v":7.5},{"t":1987.85,"v":8.9},{"t":1988.3,"v":7.0},{"t":1988.55,"v":13.9},{"t":1989.0,"v":9.8},{"t":1989.4,"v":13.3},{"t":1989.55,"v":15.2},{"t":1990.0,"v":11.1},{"t":1990.2,"v":7.5},{"t":1990.4,"v":14.4},{"t":1990.7,"v":15.2},{"t":1990.95,"v":12.3},{"t":1991.2,"v":8.0},{"t":1991.4,"v":9.8},{"t":1991.7,"v":14.0},{"t":1992.0,"v":11.7},{"t":1992.25,"v":10.9},{"t":1992.5,"v":7.8},{"t":1992.8,"v":11.1},{"t":1993.1,"v":9.0},{"t":1993.35,"v":16.6},{"t":1993.5,"v":18.8},{"t":1993.8,"v":10.5},{"t":1994.2,"v":10.6},{"t":1994.5,"v":15.0},{"t":1994.65,"v":22.0},{"t":1994.9,"v":9.0},{"t":1995.1,"v":9.5},{"t":1995.5,"v":15.8},{"t":1995.9,"v":12.3},{"t":1996.2,"v":10.0},{"t":1996.45,"v":8.5},{"t":1996.65,"v":15.0},{"t":1997.05,"v":14.4},{"t":1997.3,"v":8.5},{"t":1997.5,"v":10.0},{"t":1997.6,"v":13.0},{"t":1998.05,"v":16.0},{"t":1998.45,"v":19.4},{"t":1998.75,"v":9.8},{"t":1999.0,"v":8.5},{"t":1999.3,"v":10.0},{"t":1999.75,"v":11.7},{"t":2000.0,"v":9.5},{"t":2000.15,"v":13.3},{"t":2000.45,"v":20.2},{"t":2000.6,"v":17.2},{"t":2001.3,"v":null},{"t":2002.0,"v":16.0},{"t":2002.3,"v":13.9},{"t":2002.6,"v":17.4},{"t":2003.0,"v":11.1},{"t":2003.25,"v":12.3},{"t":2003.5,"v":9.0},{"t":2003.85,"v":16.6},{"t":2004.1,"v":11.7},{"t":2004.3,"v":10.6},{"t":2004.55,"v":16.9},{"t":2004.8,"v":9.5},{"t":2005.15,"v":11.1},{"t":2005.55,"v":22.6},{"t":2005.8,"v":10.0},{"t":2006.1,"v":12.8},{"t":2006.4,"v":18.3},{"t":2006.6,"v":11.0},{"t":2006.95,"v":12.5},{"t":2007.2,"v":10.5},{"t":2007.4,"v":22.1},{"t":2007.8,"v":13.9},{"t":2007.95,"v":16.4},{"t":2008.5,"v":14.5},{"t":2008.9,"v":12.0},{"t":2009.3,"v":17.0},{"t":2009.6,"v":13.5},{"t":2010.0,"v":null},{"t":2010.4,"v":10.5},{"t":2010.8,"v":14.0},{"t":2011.05,"v":11.1},{"t":2011.35,"v":18.8},{"t":2011.6,"v":9.5},{"t":2011.95,"v":11.1},{"t":2012.3,"v":14.5},{"t":2012.5,"v":22.4},{"t":2012.8,"v":12.8},{"t":2013.0,"v":9.0},{"t":2013.3,"v":11.4},{"t":2013.6,"v":17.7},{"t":2013.9,"v":12.0},{"t":2014.2,"v":11.9},{"t":2014.45,"v":22.1},{"t":2014.7,"v":10.0},{"t":2014.9,"v":14.1},{"t":2015.2,"v":11.0},{"t":2015.45,"v":20.2},{"t":2015.75,"v":11.9},{"t":2016.1,"v":9.5},{"t":2016.45,"v":15.2},{"t":2016.7,"v":12.5},{"t":2016.9,"v":11.9},{"t":2017.2,"v":9.0},{"t":2017.45,"v":15.8},{"t":2017.8,"v":10.5},{"t":2018.15,"v":11.9},{"t":2018.5,"v":16.0},{"t":2018.85,"v":12.3},{"t":2019.1,"v":9.5},{"t":2019.4,"v":18.0},{"t":2019.8,"v":13.0},{"t":2020.15,"v":12.3},{"t":2020.4,"v":14.0},{"t":2020.7,"v":14.7},{"t":2021.0,"v":11.5},{"t":2021.3,"v":15.0},{"t":2021.55,"v":18.3},{"t":2021.85,"v":13.6}]
},
"encoding":{
"x":{"field":"t","type":"quantitative","scale":{"domain":[1972,2022.13],"nice":false,"zero":false},
"axis":{"orient":"top","values":[1972,1974,1976,1978,1980,1982,1984,1986,1988,1990,1992,1994,1996,1998,2000,2002,2004,2006,2008,2010,2012,2014,2016,2018,2020,2022],"labelExpr":"'Ιαν-' + slice(toString(datum.value), 2)","labelAngle":-90,"labelFont":"DejaVu Sans","labelFontSize":16,"labelColor":"#000","labelPadding":9,"labelFlush":false,"labelBound":false,"labelOverlap":false,"tickSize":6,"tickColor":"#000","tickWidth":1.5,"domainColor":"#000","domainWidth":1.5,"grid":false,"title":null}},
"y":{"field":"v","type":"quantitative","scale":{"domain":[0,50],"reverse":true,"nice":false,"zero":false},
"axis":{"orient":"left","values":[0,5,10,15,20,25,30,35,40,45,50],"labelExpr":"replace(format(datum.value, '.1f'), '.', ',')","labelFont":"DejaVu Sans","labelFontSize":16,"labelColor":"#000","labelPadding":9,"labelOverlap":false,"labelFlush":false,"tickSize":9,"tickColor":"#000","tickWidth":1.5,"domainColor":"#000","domainWidth":1.5,"grid":true,"gridColor":{"condition":{"test":"datum.value == 50","value":"#8c8c8c"},"value":"#1a1a1a"},"gridWidth":1.3,"title":"Βάθος στάθμης (m)","titleFont":"DejaVu Sans","titleFontSize":15,"titleFontWeight":"normal","titleColor":"#000","titleX":-57,"titleY":382,"titleAngle":-90,"titleAlign":"center","titleBaseline":"middle"}}
},
"layer":[
{"data":{"name":"s75"},"mark":{"type":"line","color":"#000080","strokeWidth":1.5,"invalid":"break-paths-show-domains"}},
{"data":{"name":"s75"},"mark":{"type":"point","shape":"diamond","size":121,"filled":true,"fill":"#000080","stroke":"#000080","strokeWidth":1,"opacity":1}},
{"data":{"name":"lb76"},"mark":{"type":"line","color":"#FF00FF","strokeWidth":1.5,"invalid":"break-paths-show-domains"}},
{"data":{"name":"lb76"},"mark":{"type":"point","shape":"square","size":49,"filled":true,"fill":"#FF00FF","stroke":"#FF00FF","strokeWidth":1,"opacity":1}},
{"data":{"name":"lb273"},"mark":{"type":"line","color":"#FFC000","strokeWidth":1.5,"invalid":"break-paths-show-domains"}},
{"data":{"name":"lb273"},"mark":{"type":"point","shape":"triangle-up","size":150,"filled":true,"fill":"#FFC000","stroke":"#FFC000","strokeWidth":1,"opacity":1}},
{"data":{"name":"ad2"},"mark":{"type":"line","color":"#808080","strokeWidth":3.5,"invalid":"break-paths-show-domains"}},
{"data":{"name":"ad2"},"mark":{"type":"point","shape":"triangle-up","size":64,"filled":true,"fill":"#CC00CC","stroke":"#CC00CC","strokeWidth":1,"opacity":1}},
{"data":{"name":"pzt2"},"mark":{"type":"line","color":"#800000","strokeWidth":1.5,"invalid":"break-paths-show-domains"}},
{"data":{"name":"pzt2"},"mark":{"type":"point","shape":"circle","size":150,"filled":true,"fill":"#800000","stroke":"#800000","strokeWidth":1,"opacity":1}},
{"data":{"name":"ad3"},"mark":{"type":"line","color":"#008080","strokeWidth":1.5,"invalid":"break-paths-show-domains"}},
{"data":{"name":"ad3"},"mark":{"type":"point","shape":"circle","size":25,"filled":true,"fill":"#ffffff","stroke":"#008080","strokeWidth":1.2,"opacity":1}},
{"data":{"name":"ad6"},"mark":{"type":"line","color":"#00BFF3","strokeWidth":1.5,"invalid":"break-paths-show-domains"}},
{"data":{"name":"ad6"},"mark":{"type":"point","shape":"diamond","size":150,"filled":true,"fill":"#00B050","stroke":"#00B050","strokeWidth":1,"opacity":1}},
{"data":{"name":"lb99"},"mark":{"type":"line","color":"#FF0000","strokeWidth":1.5,"invalid":"break-paths-show-domains"}},
{"data":{"name":"lb99"},"mark":{"type":"point","shape":"diamond","size":42,"filled":true,"fill":"#FF0000","stroke":"#FF0000","strokeWidth":1,"opacity":1}},
{"data":{"name":"pzt1"},"mark":{"type":"line","color":"#8DB4E2","strokeWidth":1.5,"invalid":"break-paths-show-domains"}},
{"data":{"name":"pzt1"},"mark":{"type":"point","shape":"diamond","size":150,"filled":true,"fill":"#95B3D7","stroke":"#00B0F0","strokeWidth":1.5,"opacity":1}},
{"data":{"name":"ag10"},"mark":{"type":"line","color":"#E6B9B8","strokeWidth":1.5,"invalid":"break-paths-show-domains"}},
{"data":{"name":"ag10"},"mark":{"type":"point","shape":"diamond","size":81,"filled":true,"fill":"#E6B9B8","stroke":"#A5504D","strokeWidth":1.5,"opacity":1}},
{"data":{"name":"pa"},"mark":{"type":"line","color":"#3C8FAA","strokeWidth":1.5,"invalid":"break-paths-show-domains"}},
{"data":{"name":"pa"},"mark":{"type":"point","shape":"M-0.8,-0.8L0.8,0.8M-0.8,0.8L0.8,-0.8M0,-1V1","size":121,"filled":false,"stroke":"#3C96B4","strokeWidth":1.5,"opacity":1}},
{"data":{"name":"pb"},"mark":{"type":"line","color":"#C0504D","strokeWidth":2,"invalid":"break-paths-show-domains"}},
{"data":{"name":"pb"},"mark":{"type":"point","shape":"square","size":36,"filled":true,"fill":"#C0504D","stroke":"#C0504D","strokeWidth":1,"opacity":1}},
{"data":{"name":"sr39"},"mark":{"type":"line","color":"#4BACC6","strokeWidth":4,"invalid":"break-paths-show-domains"}},
{"data":{"name":"sr39"},"mark":{"type":"point","shape":"square","size":150,"filled":true,"fill":"#4BACC6","stroke":"#595959","strokeWidth":1.5,"opacity":1}},
{"data":{"values":[{"s":"75Λ"}]},"transform":[{"filter":"false"}],
"mark":{"type":"point","filled":true,"opacity":1},
"encoding":{
"shape":{"field":"s","type":"nominal","scale":{"domain":["75Λ","LB76","LB273","AD2","PZT2","AD 3","AD 6","LB 99","PZ T1","AG10","ΠΑ(ΔΕΥΑΛ)","Π.Β. (ΔΕΥΑΛ)","SR 39"],"range":["M-1,0H1M0,-0.3L0.3,0L0,0.3L-0.3,0Z","M-1,0H1M-0.2,-0.2H0.2V0.2H-0.2Z","M-1,0H1M0,-0.3L0.32,0.24H-0.32Z","M-1,0H1M0,-0.28L0.2,0.05H-0.2Z","M-1,0H1M0.32,0A0.32,0.32,0,1,1,-0.32,0A0.32,0.32,0,1,1,0.32,0Z","M-1,0H1M0.13,0A0.13,0.13,0,1,1,-0.13,0A0.13,0.13,0,1,1,0.13,0Z","M-1,0H1M0,-0.3L0.3,0L0,0.3L-0.3,0Z","M-1,0H1M0,-0.16L0.16,0L0,0.16L-0.16,0Z","M-1,0H1M0,-0.3L0.3,0L0,0.3L-0.3,0Z","M-1,0H1M0,-0.2L0.2,0L0,0.2L-0.2,0Z","M-1,0H1M-0.25,-0.25L0.25,0.25M-0.25,0.25L0.25,-0.25M0,-0.3V0.3","M-1,0H1M-0.13,-0.1H0.13V0.1H-0.13Z","M-1,0H1M-0.25,-0.25H0.25V0.25H-0.25Z"]},
"legend":{"orient":"none","legendX":62,"legendY":557,"direction":"horizontal","columns":5,"title":null,"fillColor":"#ffffff","strokeColor":"#1a1a1a","padding":1,"symbolSize":1600,"symbolStrokeWidth":1.5,"symbolOpacity":1,"symbolOffset":30,"labelOffset":10,"labelFont":"DejaVu Sans","labelFontSize":14,"labelFontWeight":"bold","labelColor":"#000","rowPadding":5.5,"columnPadding":45,"gridAlign":"all","labelLimit":300}},
"fill":{"field":"s","type":"nominal","scale":{"domain":["75Λ","LB76","LB273","AD2","PZT2","AD 3","AD 6","LB 99","PZ T1","AG10","ΠΑ(ΔΕΥΑΛ)","Π.Β. (ΔΕΥΑΛ)","SR 39"],"range":["#000080","#FF00FF","#FFC000","#CC00CC","#800000","#FFFFFF","#00B050","#FF0000","#95B3D7","#E6B9B8","#4BACC6","#C0504D","#4BACC6"]}},
"stroke":{"field":"s","type":"nominal","scale":{"domain":["75Λ","LB76","LB273","AD2","PZT2","AD 3","AD 6","LB 99","PZ T1","AG10","ΠΑ(ΔΕΥΑΛ)","Π.Β. (ΔΕΥΑΛ)","SR 39"],"range":["#000080","#FF00FF","#FFC000","#808080","#800000","#008080","#00BFF3","#FF0000","#6FB4E6","#D99694","#3C96B4","#C0504D","#4BACC6"]}}
}}
]
}
